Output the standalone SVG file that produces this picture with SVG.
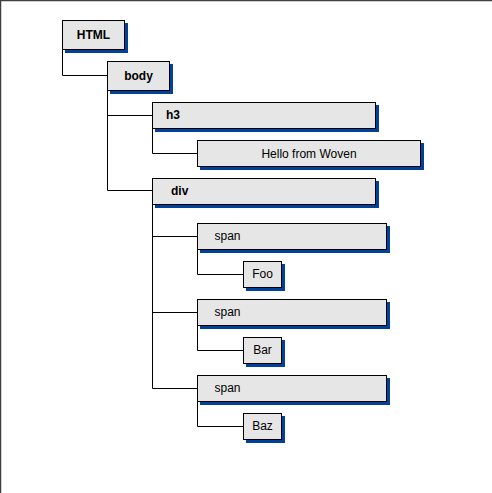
<svg xmlns="http://www.w3.org/2000/svg" width="492" height="493" viewBox="0 0 492 493">
<style>
.box{fill:#e6e6e6;stroke:#000;stroke-width:1}
.sh{fill:#00429a}
.b{font-family:"Liberation Sans",Arial,sans-serif;font-size:12px;font-weight:bold;fill:#000}
.n{font-family:"Liberation Sans",Arial,sans-serif;font-size:12px;fill:#000}
.c{fill:none;stroke:#000;stroke-width:1}
</style>
<rect x="0" y="0" width="492" height="493" fill="#fff"/>
<path d="M0.5,493 V0.5 H492" fill="none" stroke="#404040" stroke-width="1.5"/>
<g id="connectors">
<path class="c" d="M62.5,50 V75.5 H107.5"/>
<path class="c" d="M107.5,91 V190.5 H152.5 M107.5,115.5 H152.5"/>
<path class="c" d="M152.5,129 V153.5 H197.5"/>
<path class="c" d="M152.5,205 V388.5 H197.5 M152.5,236.5 H197.5 M152.5,312.5 H197.5"/>
<path class="c" d="M197.5,250 V274.5 H243.5"/>
<path class="c" d="M197.5,326 V350.5 H243.5"/>
<path class="c" d="M197.5,402 V426.5 H243.5"/>
</g>
<g id="html">
<rect class="sh" x="65" y="23" width="63" height="30"/>
<rect class="box" x="62.5" y="20.5" width="62" height="29"/>
<text class="b" x="93.5" y="39" text-anchor="middle">HTML</text>
</g>
<g id="body">
<rect class="sh" x="110" y="64" width="63" height="30"/>
<rect class="box" x="107.5" y="61.5" width="62" height="29"/>
<text class="b" x="138.5" y="80" text-anchor="middle">body</text>
</g>
<g id="h3">
<rect class="sh" x="155" y="105" width="224" height="27"/>
<rect class="box" x="152.5" y="102.5" width="223" height="26"/>
<text class="b" x="166" y="119">h3</text>
</g>
<g id="hello">
<rect class="sh" x="200" y="143" width="224" height="27"/>
<rect class="box" x="197.5" y="140.5" width="223" height="26"/>
<text class="n" x="309" y="158" text-anchor="middle">Hello from Woven</text>
</g>
<g id="div">
<rect class="sh" x="155" y="181" width="224" height="27"/>
<rect class="box" x="152.5" y="178.5" width="223" height="26"/>
<text class="b" x="171" y="195">div</text>
</g>
<g id="span1">
<rect class="sh" x="200" y="226" width="190" height="27"/>
<rect class="box" x="197.5" y="223.5" width="189" height="26"/>
<text class="n" x="214.5" y="240">span</text>
</g>
<g id="foo">
<rect class="sh" x="246" y="264" width="39" height="27"/>
<rect class="box" x="243.5" y="261.5" width="38" height="26"/>
<text class="n" x="262.5" y="278" text-anchor="middle">Foo</text>
</g>
<g id="span2">
<rect class="sh" x="200" y="302" width="190" height="27"/>
<rect class="box" x="197.5" y="299.5" width="189" height="26"/>
<text class="n" x="214.5" y="316">span</text>
</g>
<g id="bar">
<rect class="sh" x="246" y="340" width="39" height="27"/>
<rect class="box" x="243.5" y="337.5" width="38" height="26"/>
<text class="n" x="262.5" y="354" text-anchor="middle">Bar</text>
</g>
<g id="span3">
<rect class="sh" x="200" y="378" width="190" height="27"/>
<rect class="box" x="197.5" y="375.5" width="189" height="26"/>
<text class="n" x="214.5" y="392">span</text>
</g>
<g id="baz">
<rect class="sh" x="246" y="416" width="39" height="27"/>
<rect class="box" x="243.5" y="413.5" width="38" height="26"/>
<text class="n" x="262.5" y="430" text-anchor="middle">Baz</text>
</g>
</svg>
